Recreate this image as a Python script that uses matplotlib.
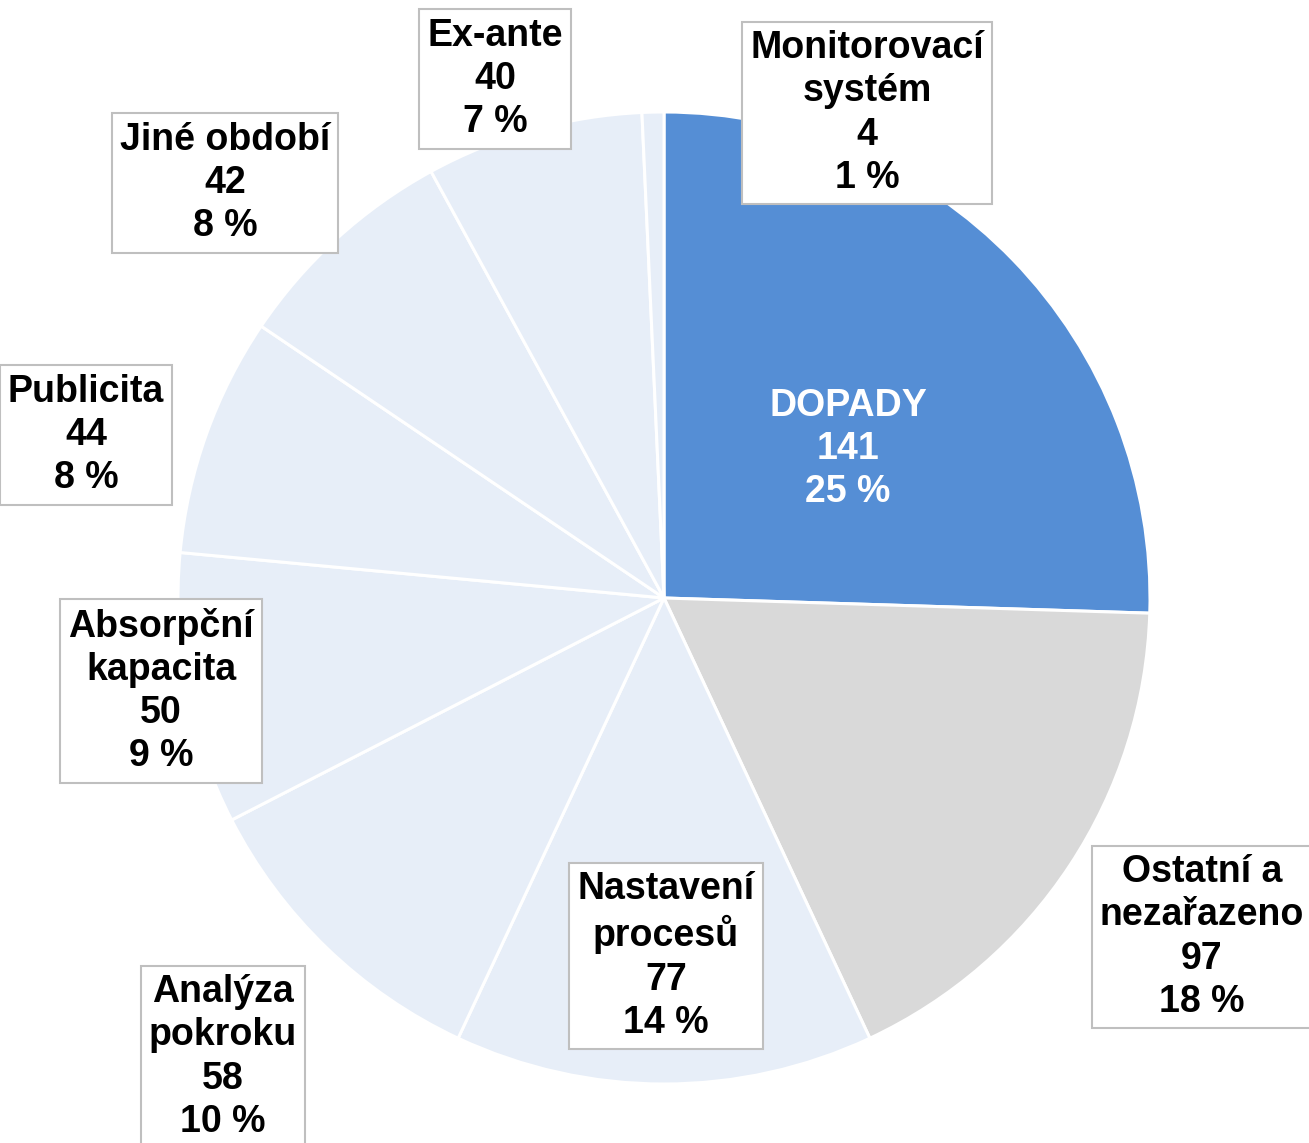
import matplotlib.pyplot as plt

categories = ['DOPADY', 'Ostatní a\nnezařazeno', 'Nastavení\nprocesů', 'Analýza\npokroku',
              'Absorpční\nkapacita', 'Publicita', 'Jiné období', 'Ex-ante', 'Monitorovací\nsystém']
values = [141, 97, 77, 58, 50, 44, 42, 40, 4]
percents = [25, 18, 14, 10, 9, 8, 8, 7, 1]

colors = ['#558ED5', '#D9D9D9'] + ['#E7EEF8'] * 7

# label box centres in pixels from top-left of the image
label_pos = [(848, 449), (1202, 937), (666, 956), (223, 1057), (161, 691),
             (86, 435), (225, 183), (495, 79), (867, 113)]

W, H = 1309, 1143
plt.rcParams['font.family'] = ['Liberation Sans', 'DejaVu Sans']

fig = plt.figure(figsize=(W / 100, H / 100), dpi=100)
ax = fig.add_axes([0, 0, 1, 1])

ax.pie(values, colors=colors, startangle=90, counterclock=False,
       radius=486, center=(664, H - 598),
       wedgeprops=dict(edgecolor='white', linewidth=2.2))
ax.set_xlim(0, W)
ax.set_ylim(0, H)
ax.set_aspect('equal')
ax.axis('off')

for i, (cat, val, pct) in enumerate(zip(categories, values, percents)):
    x, y = label_pos[i]
    txt = f"{cat}\n{val}\n{pct} %"
    if i == 0:
        ax.text(x, H - y, txt, ha='center', va='center', fontsize=27,
                fontweight='bold', color='white', linespacing=1.26)
    else:
        ax.text(x, H - y, txt, ha='center', va='center', fontsize=27,
                fontweight='bold', color='black', linespacing=1.26,
                bbox=dict(boxstyle='square,pad=0.22', facecolor='white',
                          edgecolor='#BFBFBF', linewidth=1.5))

fig.savefig('out.png', dpi=100)
